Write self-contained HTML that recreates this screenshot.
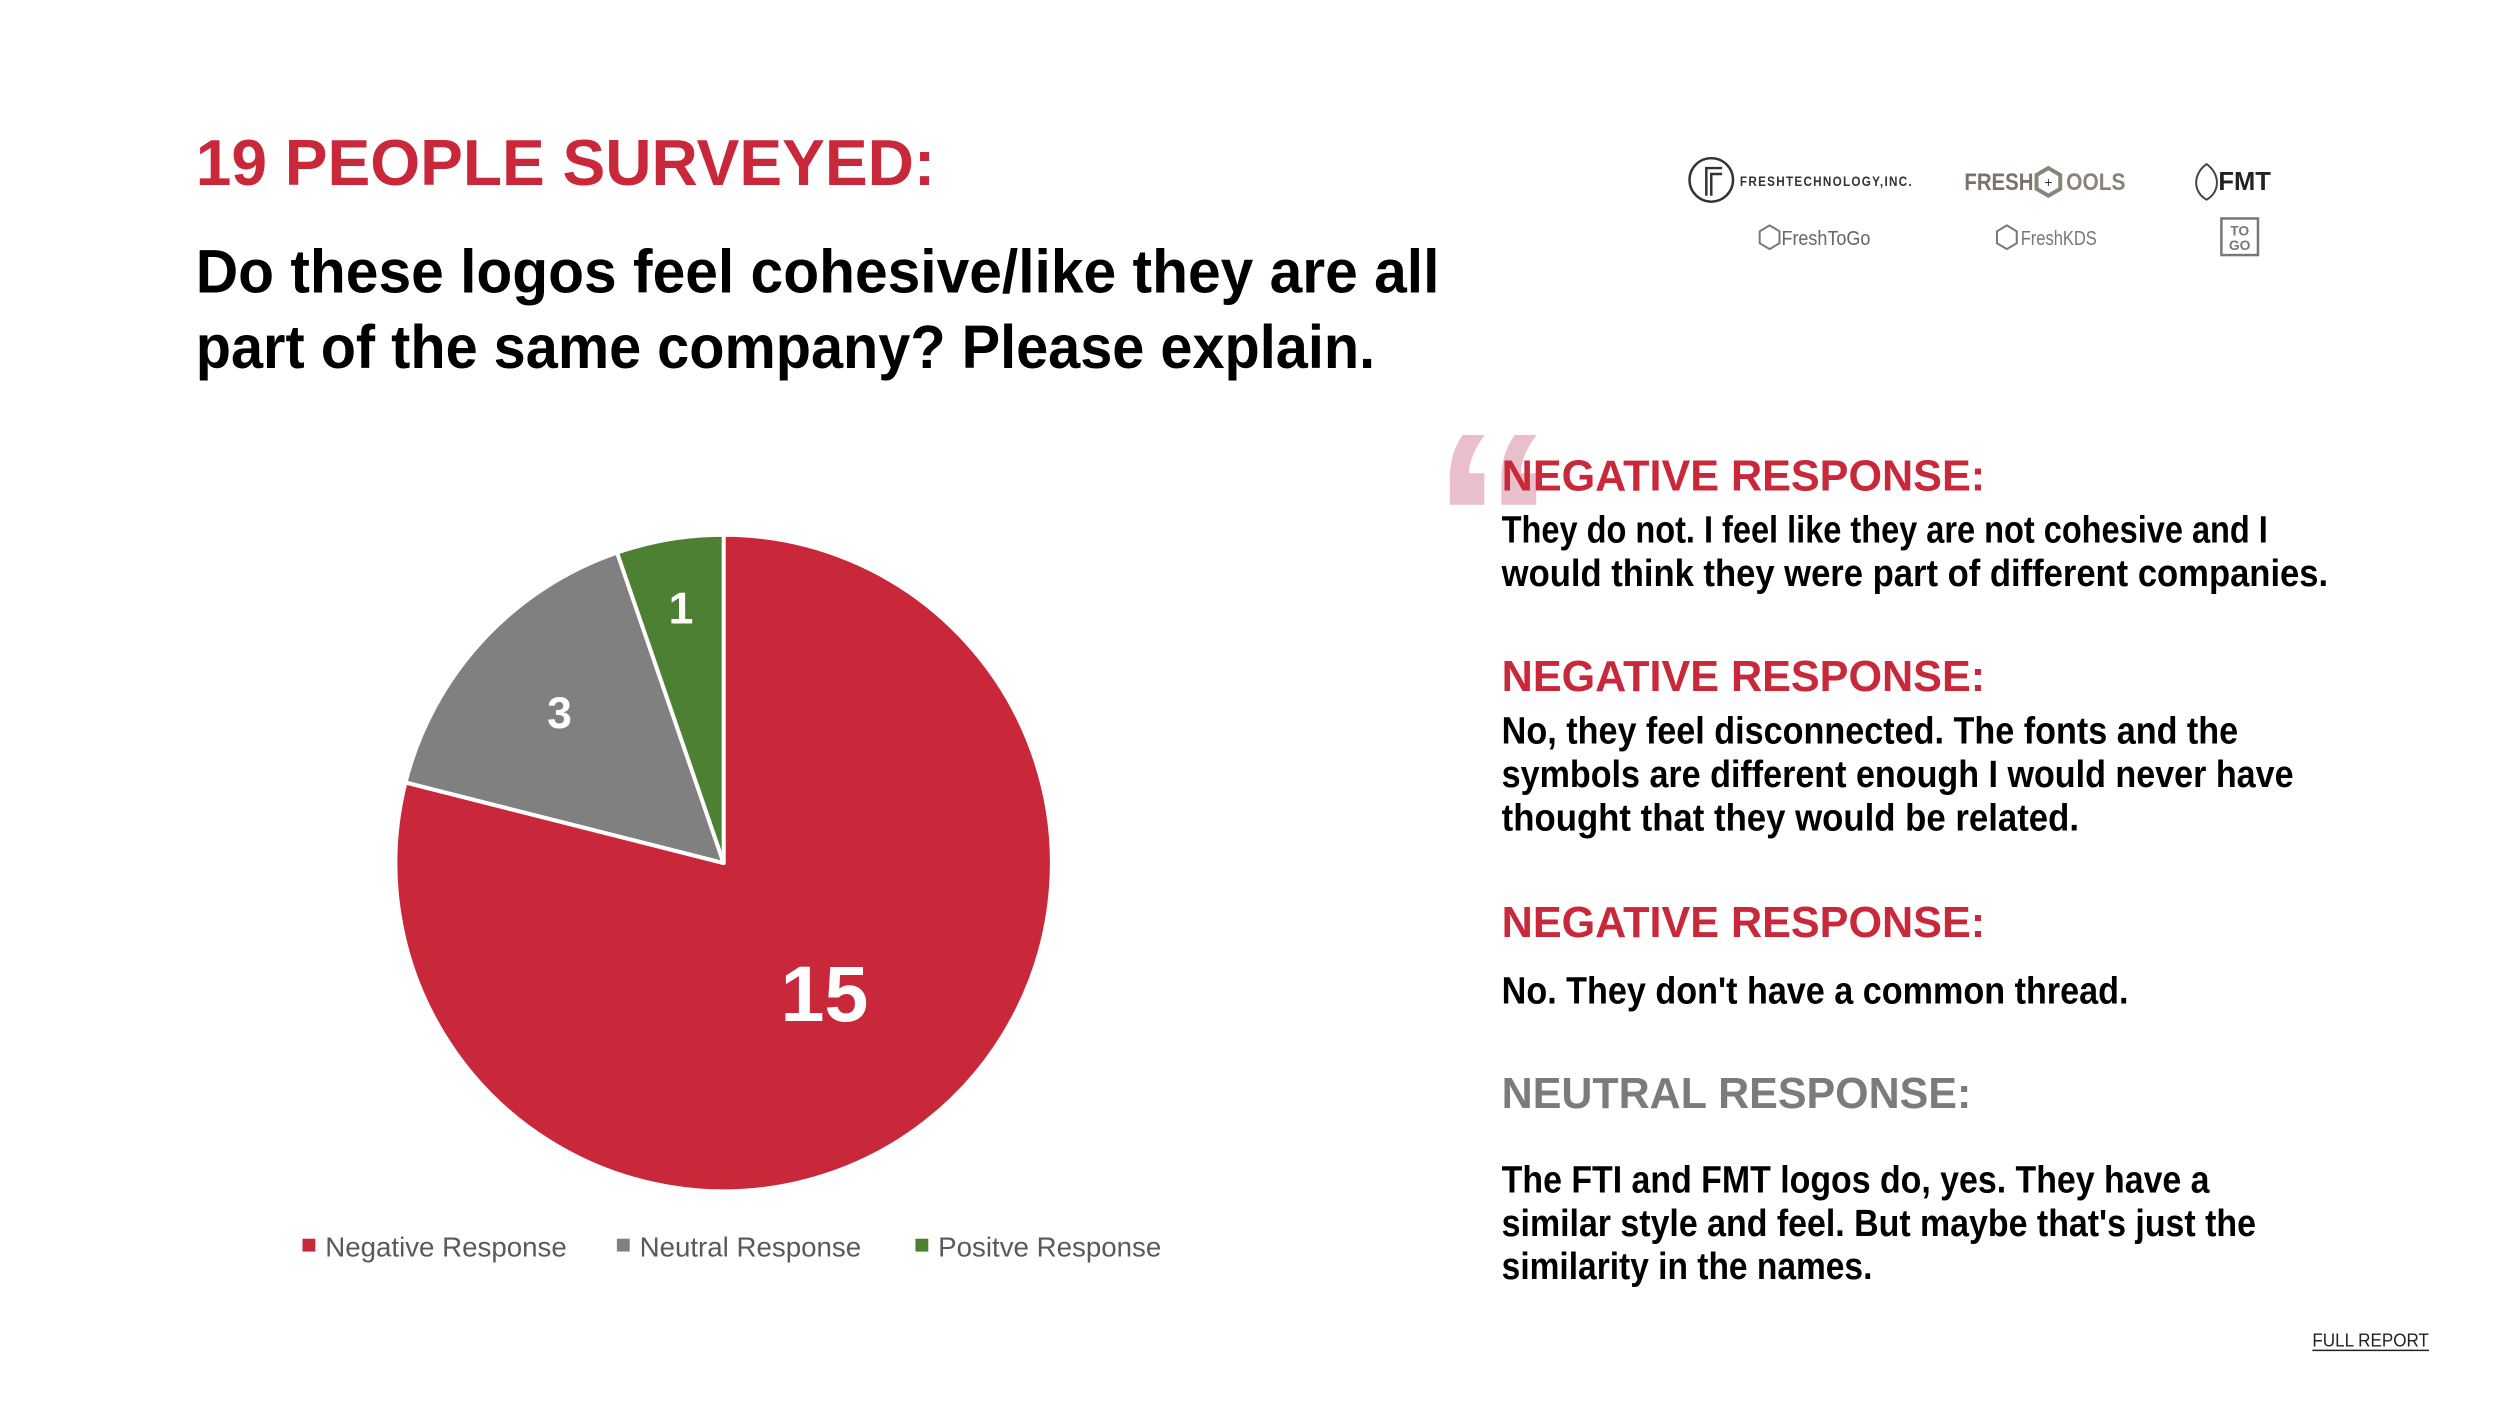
<!DOCTYPE html>
<html><head><meta charset="utf-8"><style>
html,body{margin:0;padding:0;background:#fff;}
svg{display:block;}
text{font-family:"Liberation Sans",sans-serif;}
</style></head><body>
<svg id="chart" width="2500" height="1406" viewBox="0 0 2500 1406" xmlns="http://www.w3.org/2000/svg">
<g transform="scale(0.9886)">
<text x="198" y="187" font-size="66" font-weight="bold" fill="#C8283A" textLength="748" lengthAdjust="spacingAndGlyphs">19 PEOPLE SURVEYED:</text>
<text x="198" y="296" font-size="62" font-weight="bold" fill="#000" textLength="1258" lengthAdjust="spacingAndGlyphs">Do these logos feel cohesive/like they are all</text>
<text x="198" y="372" font-size="62" font-weight="bold" fill="#000" textLength="1193" lengthAdjust="spacingAndGlyphs">part of the same company? Please explain.</text>

<g id="pie"></g>
<g id="legend"></g>

<g>
 <circle cx="1731" cy="182" r="22" fill="none" stroke="#333" stroke-width="2.5"/>
 <path d="M1726 198 V170 H1742 M1731 198 V176 H1742" fill="none" stroke="#333" stroke-width="2.5"/>
 <text x="1760" y="188" font-size="14" font-weight="bold" fill="#333" letter-spacing="1.5" textLength="175" lengthAdjust="spacingAndGlyphs">FRESHTECHNOLOGY,INC.</text>
 <text x="1987" y="192" font-size="24" font-weight="bold" fill="#7a7468" textLength="70" lengthAdjust="spacingAndGlyphs">FRESH</text>
 <text x="2090" y="192" font-size="24" font-weight="bold" fill="#8a8478" textLength="60" lengthAdjust="spacingAndGlyphs">OOLS</text>
 <polygon points="2072,170 2084,177 2084,191 2072,198 2060,191 2060,177" fill="#fff" stroke="#8a8478" stroke-width="4"/>
 <text x="2072" y="189" font-size="14" text-anchor="middle" fill="#333">+</text>
 <path d="M2232 166 C2218 176 2218 194 2232 202 C2246 194 2246 176 2232 166 Z" fill="none" stroke="#444" stroke-width="2"/>
 <text x="2244" y="192" font-size="26" font-weight="bold" fill="#222" textLength="53" lengthAdjust="spacingAndGlyphs">FMT</text>
 <polygon points="1790,228 1800,234 1800,246 1790,252 1780,246 1780,234" fill="none" stroke="#777" stroke-width="2"/>
 <text x="1802" y="248" font-size="21" fill="#666" textLength="90" lengthAdjust="spacingAndGlyphs">FreshToGo</text>
 <polygon points="2030,228 2040,234 2040,246 2030,252 2020,246 2020,234" fill="none" stroke="#777" stroke-width="2"/>
 <text x="2044" y="248" font-size="21" fill="#777" textLength="77" lengthAdjust="spacingAndGlyphs">FreshKDS</text>
 <rect x="2247" y="221" width="37" height="37" fill="none" stroke="#777" stroke-width="2.5"/>
 <text x="2265.5" y="238" font-size="14" font-weight="bold" fill="#777" text-anchor="middle">TO</text>
 <text x="2265.5" y="253" font-size="14" font-weight="bold" fill="#777" text-anchor="middle">GO</text>
</g>

<text x="1448" y="612" font-size="250" font-weight="bold" fill="#E8BFCB" font-family="Liberation Serif">“</text>

<g>
 <text x="1519" y="496" font-size="44" font-weight="bold" fill="#C8283A" textLength="489" lengthAdjust="spacingAndGlyphs">NEGATIVE RESPONSE:</text>
 <text x="1519" y="549" font-size="38" font-weight="bold" fill="#000" textLength="775" lengthAdjust="spacingAndGlyphs">They do not. I feel like they are not cohesive and I</text>
 <text x="1519" y="593" font-size="38" font-weight="bold" fill="#000" textLength="836" lengthAdjust="spacingAndGlyphs">would think they were part of different companies.</text>

 <text x="1519" y="699" font-size="44" font-weight="bold" fill="#C8283A" textLength="489" lengthAdjust="spacingAndGlyphs">NEGATIVE RESPONSE:</text>
 <text x="1519" y="752" font-size="38" font-weight="bold" fill="#000" textLength="745" lengthAdjust="spacingAndGlyphs">No, they feel disconnected. The fonts and the</text>
 <text x="1519" y="796" font-size="38" font-weight="bold" fill="#000" textLength="801" lengthAdjust="spacingAndGlyphs">symbols are different enough I would never have</text>
 <text x="1519" y="840" font-size="38" font-weight="bold" fill="#000" textLength="584" lengthAdjust="spacingAndGlyphs">thought that they would be related.</text>

 <text x="1519" y="948" font-size="44" font-weight="bold" fill="#C8283A" textLength="489" lengthAdjust="spacingAndGlyphs">NEGATIVE RESPONSE:</text>
 <text x="1519" y="1015" font-size="38" font-weight="bold" fill="#000" textLength="634" lengthAdjust="spacingAndGlyphs">No. They don't have a common thread.</text>

 <text x="1519" y="1121" font-size="44" font-weight="bold" fill="#7b7b7b" textLength="475" lengthAdjust="spacingAndGlyphs">NEUTRAL RESPONSE:</text>
 <text x="1519" y="1206" font-size="38" font-weight="bold" fill="#000" textLength="716" lengthAdjust="spacingAndGlyphs">The FTI and FMT logos do, yes. They have a</text>
 <text x="1519" y="1250" font-size="38" font-weight="bold" fill="#000" textLength="763" lengthAdjust="spacingAndGlyphs">similar style and feel. But maybe that's just the</text>
 <text x="1519" y="1294" font-size="38" font-weight="bold" fill="#000" textLength="375" lengthAdjust="spacingAndGlyphs">similarity in the names.</text>
</g>

<text x="2339" y="1362" font-size="19" fill="#222" textLength="118" lengthAdjust="spacingAndGlyphs">FULL REPORT</text>
<line x1="2339" y1="1366" x2="2457" y2="1366" stroke="#222" stroke-width="1.5"/>
</g>
</svg>
<script>
const categories = ["Negative Response", "Neutral Response", "Positve Response"];
const values = [15, 3, 1];
const colors = ["#C8283A", "#808080", "#4E8034"];
const labelSizes = [80, 45, 45];
const labelRadii = [0.5, 0.68, 0.79];

const NS = "http://www.w3.org/2000/svg";
const cx = 732, cy = 873, r = 332;
const total = values.reduce((a, b) => a + b, 0);
function angleOf(v) { return v / total * 2 * Math.PI; }
function pt(a, rad) { return [cx + rad * Math.sin(a), cy - rad * Math.cos(a)]; }

const pie = document.getElementById('pie');
let start = 0;
values.forEach((v, i) => {
  const end = start + angleOf(v);
  const [x1, y1] = pt(start, r), [x2, y2] = pt(end, r);
  const large = end - start > Math.PI ? 1 : 0;
  const p = document.createElementNS(NS, 'path');
  p.setAttribute('d', `M${cx},${cy} L${x1},${y1} A${r},${r} 0 ${large} 1 ${x2},${y2} Z`);
  p.setAttribute('fill', colors[i]);
  p.setAttribute('stroke', '#fff');
  p.setAttribute('stroke-width', '4');
  p.setAttribute('stroke-linejoin', 'round');
  
  
  pie.appendChild(p);
  const mid = (start + end) / 2;
  const [lx, ly] = pt(mid, r * labelRadii[i]);
  const t = document.createElementNS(NS, 'text');
  t.setAttribute('x', lx);
  t.setAttribute('y', ly + labelSizes[i] * 0.36);
  t.setAttribute('text-anchor', 'middle');
  t.setAttribute('font-size', labelSizes[i]);
  t.setAttribute('font-weight', 'bold');
  t.setAttribute('fill', '#fff');
  t.textContent = v;
  
  
  pie.appendChild(t);
  start = end;
});

const legend = document.getElementById('legend');
const legendX = [306, 624, 926];
categories.forEach((c, i) => {
  const sq = document.createElementNS(NS, 'rect');
  sq.setAttribute('x', legendX[i]); sq.setAttribute('y', 1253);
  sq.setAttribute('width', 13); sq.setAttribute('height', 13);
  sq.setAttribute('fill', colors[i]);
  
  
  legend.appendChild(sq);
  const t = document.createElementNS(NS, 'text');
  t.setAttribute('x', legendX[i] + 23); t.setAttribute('y', 1271);
  t.setAttribute('font-size', '28'); t.setAttribute('fill', '#595959');
  t.textContent = c;
  
  
  legend.appendChild(t);
});
</script>
</body></html>
